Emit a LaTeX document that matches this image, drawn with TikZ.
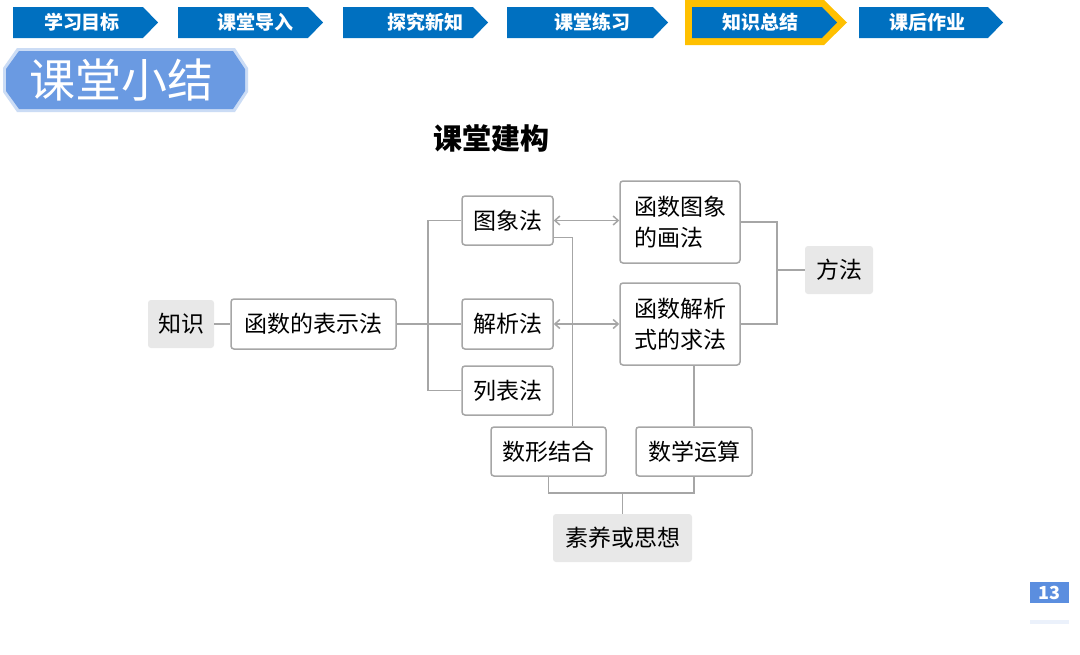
\documentclass[tikz,border=0pt]{standalone}
\usepackage{fontspec}
\setmainfont{Noto Sans CJK SC}
\usetikzlibrary{arrows.meta,positioning,calc}
\definecolor{tabblue}{HTML}{0070C0}
\definecolor{tabyellow}{HTML}{FFC000}
\definecolor{badge}{HTML}{6A9AE2}
\definecolor{lnk}{HTML}{A6A6A6}
\definecolor{gfill}{HTML}{E8E8E8}
\definecolor{pnum}{HTML}{5B8EDF}
\tikzset{
  tabtxt/.style={text=white,font=\fontsize{19}{22}\selectfont\bfseries,inner sep=0pt},
  wbox/.style={draw=lnk,line width=1.5pt,fill=white,rounded corners=3pt,
    font=\fontsize{23}{31}\selectfont,inner sep=0pt,align=left},
  gbox/.style={fill=gfill,rounded corners=3pt,
    font=\fontsize{23}{31}\selectfont,inner sep=0pt},
  link/.style={draw=lnk,line width=1.5pt},
  dbl/.style={link,{Straight Barb[length=5pt,width=9pt]}-{Straight Barb[length=5pt,width=9pt]}}
}
\begin{document}
\begin{tikzpicture}[x=1pt,y=-1pt]
\useasboundingbox (0,0) rectangle (1080,654);
\fill[white] (0,0) rectangle (1080,654);
% tabs
\fill[tabblue] (13,7) -- (143,7) -- (158,22.5) -- (143,38) -- (13,38) -- cycle;
\node[tabtxt] (t1) at (82,22.5) {学习目标};
\fill[tabblue] (178,7) -- (308,7) -- (323,22.5) -- (308,38) -- (178,38) -- cycle;
\node[tabtxt] (t2) at (255,22.5) {课堂导入};
\fill[tabblue] (343,7) -- (473,7) -- (488,22.5) -- (473,38) -- (343,38) -- cycle;
\node[tabtxt] (t3) at (425,22.5) {探究新知};
\fill[tabblue] (507,7) -- (653,7) -- (668,22.5) -- (653,38) -- (507,38) -- cycle;
\node[tabtxt] (t4) at (592,22.5) {课堂练习};
\fill[tabyellow] (685,0) -- (824,0) -- (847,22.5) -- (824,45) -- (685,45) -- cycle;
\fill[tabblue] (692,7) -- (822,7) -- (837,22.5) -- (822,38) -- (692,38) -- cycle;
\node[tabtxt] (t5) at (760,22.5) {知识总结};
\fill[tabblue] (859,7) -- (988,7) -- (1003,22.5) -- (988,38) -- (859,38) -- cycle;
\node[tabtxt] (t6) at (927,22.5) {课后作业};
% badge
\fill[badge!35] (3,68) -- (17,48) -- (235,48) -- (248,68) -- (248,92) -- (235,112) -- (17,112) -- (3,92) -- cycle;
\fill[badge] (6,69) -- (19,51) -- (233,51) -- (245,69) -- (245,91) -- (233,109) -- (19,109) -- (6,91) -- cycle;
\node[text=white,font=\fontsize{46}{50}\selectfont,inner sep=0pt] (badge) at (122,80) {课堂小结};
% heading
\node[font=\fontsize{29}{32}\selectfont\bfseries,inner sep=0pt] (head) at (491,138) {课堂建构};
% nodes
\node[gbox,minimum width=66pt,minimum height=48pt] (zs) at (181,324) {知识};
\node[wbox,minimum width=165pt,minimum height=50pt,align=center] (hs) at (313.5,324) {函数的表示法};
\node[wbox,minimum width=91pt,minimum height=49pt] (tx) at (507.5,220.5) {图象法};
\node[wbox,minimum width=91pt,minimum height=50pt] (jx) at (507.5,324) {解析法};
\node[wbox,minimum width=91pt,minimum height=49pt] (lb) at (507.5,390.5) {列表法};
\node[wbox,minimum width=120pt,minimum height=82pt] (hx) at (680,222) {函数图象\\的画法};
\node[wbox,minimum width=120pt,minimum height=82pt] (jxs) at (680,324) {函数解析\\式的求法};
\node[gbox,minimum width=68pt,minimum height=48pt] (ff) at (839,270) {方法};
\node[wbox,minimum width=115pt,minimum height=49pt] (sx) at (548.5,451.5) {数形结合};
\node[wbox,minimum width=116pt,minimum height=49pt] (sy) at (694,451.5) {数学运算};
\node[gbox,minimum width=139pt,minimum height=48pt] (sz) at (622.5,538) {素养或思想};
% links
\coordinate (vl) at (428,0);
\coordinate (vr) at (777,0);
\coordinate (hb) at (0,493);
\draw[link] (zs.east) -- (hs.west);
\draw[link] (hs.east) -- (jx.west);
\draw[link] (tx.west) -- (tx.west -| vl) -- (lb.west -| vl) -- (lb.west);
\draw[dbl] (tx.east) -- (hx.west |- tx.east);
\draw[dbl] (jx.east) -- (jxs.west |- jx.east);
\draw[link] (hx.east) -- (hx.east -| vr) -- (jxs.east -| vr) -- (jxs.east);
\draw[link] (ff.west) -- (ff.west -| vr);
\draw[link] ([yshift=-17pt]tx.east) -| ([xshift=24pt]sx.north);
\draw[link] (sy.north) -- (sy.north |- jxs.south);
\draw[link] (sx.south) -- (sx.south |- hb) -- (sy.south |- hb) -- (sy.south);
\draw[link] (sz.north) -- (sz.north |- hb);
% page number
\fill[pnum] (1030,582) rectangle (1069,603);
\node[text=white,font=\fontsize{18}{20}\selectfont\bfseries,inner sep=0pt] (pg) at (1049.5,592.5) {13};
\fill[pnum!12] (1030,620) rectangle (1069,624);
\end{tikzpicture}
\end{document}
